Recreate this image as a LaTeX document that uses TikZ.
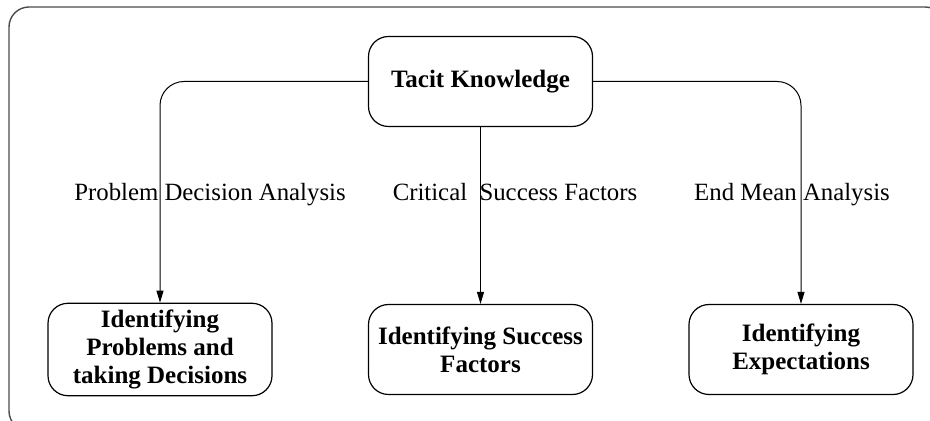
\documentclass[tikz,border=0pt]{standalone}
\usepackage{fontspec}
\setmainfont{Liberation Serif}
\usetikzlibrary{arrows.meta}

\begin{document}
\begin{tikzpicture}[x=0.5pt, y=-0.5pt,
    box/.style={draw, line width=0.6pt, rounded corners=10pt, minimum width=112pt,
      minimum height=45pt, align=center, font=\fontsize{12.5}{14}\selectfont\bfseries},
    link/.style={line width=0.5pt, rounded corners=12pt, -{Triangle[length=6pt,width=3.5pt]}},
    lbl/.style={anchor=base, font=\fontsize{12.4}{14}\selectfont}]
    % Rahmen
    \useasboundingbox (0,0) rectangle (930,421);
    \clip (0,0) rectangle (930,421);
    \draw[line width=0.7pt, black!70, rounded corners=10pt] (9,7) rectangle (945,431);
    % Knoten
    \node[box] (tacit) at (480.5,81.5) {Tacit Knowledge};
    \node[box] (probl) at (160,349.5) {Identifying\\Problems and\\taking Decisions};
    \node[box] (succ) at (480.5,349.5) {Identifying Success\\Factors};
    \node[box] (expect) at (801,349.5) {Identifying\\Expectations};
    % Verbindungen
    \draw[link] (tacit.west) -| (probl.north);
    \draw[link] (tacit.south) -- (succ.north);
    \draw[link] (tacit.east) -| (expect.north);
    % Beschriftungen
    \node[lbl] (pda) at (210,201) {Problem Decision Analysis};
    \node[lbl] (csf) at (515,201) {Critical\ \ Success Factors};
    \node[lbl] (ema) at (792,201) {End Mean Analysis};
\end{tikzpicture}
\end{document}
